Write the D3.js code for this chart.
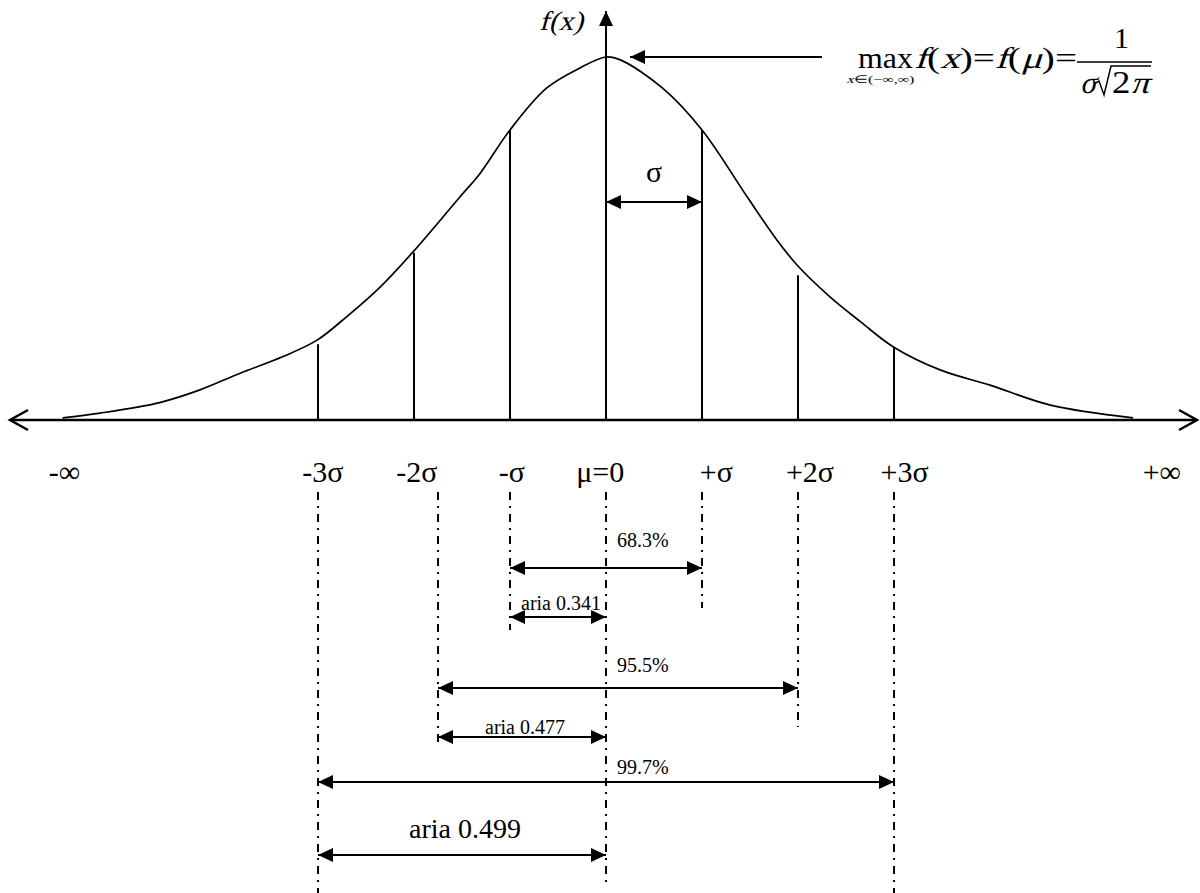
<!DOCTYPE html>
<html><head><meta charset="utf-8">
<script src="https://cdn.jsdelivr.net/npm/d3@7"></script>
<style>
html,body{margin:0;padding:0;background:#fff;}
svg{display:block;}
</style></head>
<body><svg id="c" width="1200" height="893" font-family="'Liberation Serif', 'Times New Roman', Times, serif"></svg>
<script>
// ---- data (x in units of sigma, y = relative density, peak = 1) ----
const curveS = [-5.66,-5.27,-4.65,-4.23,-3.81,-3.37,-3.01,-2.70,-2.35,-2.01,-1.52,-1.31,-1.0,-0.62,-0.27,0,0.15,0.59,1.0,1.47,1.78,1.99,2.33,2.65,2.99,3.48,4.0,4.63,5.49];
const curveV = [0.006,0.019,0.048,0.083,0.129,0.174,0.220,0.285,0.367,0.463,0.615,0.680,0.799,0.914,0.970,1.0,0.992,0.914,0.799,0.615,0.496,0.427,0.340,0.271,0.202,0.138,0.096,0.041,0.006];
const sigmaMarks = [-3,-2,-1,1,2,3];
const sigmaMarkTops = [0.209,0.461,0.799,0.799,0.399,0.201];
const axisLabels = ["-\u221E","-3\u03C3","-2\u03C3","-\u03C3","\u03BC=0","+\u03C3","+2\u03C3","+3\u03C3","+\u221E"];
const axisLabelPos = [-5.64,-2.95,-1.97,-0.98,-0.06,1.15,2.125,3.11,5.79];
const guideS = [-3,-1.75,-1,0,1,2,3];
const intervalLabels = ["68.3%","aria 0.341","95.5%","aria 0.477","99.7%","aria 0.499"];
const intervalFrom = [-1,-1,-1.75,-1.75,-3,-3];
const intervalTo = [1,0,2,0,3,0];

// ---- layout ----
const FONT = "'Liberation Serif', 'Times New Roman', Times, serif";
const SKEW = -14;
const svg = d3.select("#c");
const x = d3.scaleLinear().domain([-3,3]).range([318,894]);
const y = d3.scaleLinear().domain([0,1]).range([420,57]);
const axisY = y(0);
const guideTop = 492;
const guideBottom = [893,745,630,885,608,727,893];
const rowY = [568,617,688,737,782,855];
const labelBase = [547,610,672,734,774,838];
const labelSize = [20,20,20,20,20,28];

const T = (sel)=>sel.attr("font-family",FONT).attr("fill","#000");

// row of text pieces (italic = synthetic slant of the serif face), fitted to a width
function textRow(parent, pieces, x0, y0, size, width){
  const g = parent.append("g");
  const inner = g.append("g");
  let cx = 0;
  pieces.forEach(([t,it])=>{
    const pg = inner.append("g").attr("transform",`translate(${cx},0)` + (it?` skewX(${SKEW})`:""));
    const el = T(pg.append("text")).attr("x",0).attr("y",0).attr("font-size",size).text(t);
    cx += el.node().getComputedTextLength();
  });
  const sx = width ? width/cx : 1;
  g.attr("transform",`translate(${x0},${y0}) scale(${sx},1)`);
  return g;
}

// arrowhead marker
const defs = svg.append("defs");
defs.append("marker").attr("id","head")
  .attr("viewBox","0 0 15 14").attr("refX",15).attr("refY",7)
  .attr("markerWidth",15).attr("markerHeight",14)
  .attr("markerUnits","userSpaceOnUse").attr("orient","auto-start-reverse")
  .append("path").attr("d","M0,0L15,7L0,14Z").attr("fill","#000");

// x axis line with open arrow heads
svg.append("line").attr("x1",10).attr("x2",1197).attr("y1",axisY).attr("y2",axisY)
  .attr("stroke","#000").attr("stroke-width",2.5);
svg.append("path").attr("d",`M28,${axisY-10}L10,${axisY}L28,${axisY+10}`)
  .attr("fill","none").attr("stroke","#000").attr("stroke-width",2.5);
svg.append("path").attr("d",`M1179,${axisY-10}L1197,${axisY}L1179,${axisY+10}`)
  .attr("fill","none").attr("stroke","#000").attr("stroke-width",2.5);

// curve
const pts = curveS.map((s,i)=>[s,curveV[i]]);
svg.append("path").datum(pts)
  .attr("d",d3.line().x(d=>x(d[0])).y(d=>y(d[1])).curve(d3.curveCatmullRom.alpha(0.5)))
  .attr("fill","none").attr("stroke","#000").attr("stroke-width",1.7);

// vertical sigma lines
svg.selectAll("line.sig").data(sigmaMarks).join("line").attr("class","sig")
  .attr("x1",d=>x(d)).attr("x2",d=>x(d))
  .attr("y1",axisY).attr("y2",(d,i)=>y(sigmaMarkTops[i]))
  .attr("stroke","#000").attr("stroke-width",2);

// mu axis (vertical) with arrow
svg.append("line").attr("x1",x(0)).attr("x2",x(0)).attr("y1",axisY).attr("y2",11)
  .attr("stroke","#000").attr("stroke-width",2).attr("marker-end","url(#head)");
textRow(svg, [["f(x)",1]], 539, 30, 27, 44);

// sigma width arrow
svg.append("line").attr("x1",x(0)).attr("x2",x(1)).attr("y1",202).attr("y2",202)
  .attr("stroke","#000").attr("stroke-width",2)
  .attr("marker-start","url(#head)").attr("marker-end","url(#head)");
T(svg.append("text")).attr("x",(x(0)+x(1))/2).attr("y",182).attr("font-size",30)
  .attr("text-anchor","middle").text("\u03C3");

// pointer to maximum
svg.append("line").attr("x1",822).attr("x2",630).attr("y1",y(1)).attr("y2",y(1))
  .attr("stroke","#000").attr("stroke-width",2).attr("marker-end","url(#head)");

// formula
textRow(svg, [["max",0]], 858, 68, 30, 55);
textRow(svg, [["x",1],["\u2208(\u2212\u221E,\u221E)",0]], 846, 83, 11, 69);
textRow(svg, [["f",1],["(",0],["x",1],[")=",0],["f",1],["(",0],["\u03BC",1],[")=",0]], 914, 68, 30, 163);
T(svg.append("text")).attr("x",1114).attr("y",48).attr("font-size",30).text("1");
svg.append("line").attr("x1",1077).attr("x2",1152).attr("y1",62).attr("y2",62)
  .attr("stroke","#000").attr("stroke-width",1.5);
textRow(svg, [["\u03C3",1]], 1080, 93, 31, 16);
svg.append("path").attr("d","M1094,84L1099,81L1104,95L1111,66L1151,66")
  .attr("fill","none").attr("stroke","#000").attr("stroke-width",1.5);
textRow(svg, [["2",0],["\u03C0",1]], 1112, 93, 31, 37);

// axis labels
T(svg.selectAll("text.al").data(axisLabels).join("text").attr("class","al"))
  .attr("x",(d,i)=>x(axisLabelPos[i])).attr("y",482).attr("font-size",30)
  .attr("text-anchor","middle").text(d=>d);

// dash-dot guides
svg.selectAll("line.guide").data(guideS).join("line").attr("class","guide")
  .attr("x1",d=>x(d)).attr("x2",d=>x(d)).attr("y1",guideTop).attr("y2",(d,i)=>guideBottom[i])
  .attr("stroke","#000").attr("stroke-width",2).attr("stroke-dasharray","8,6,2,6");

// interval arrows
svg.selectAll("line.iv").data(intervalLabels).join("line").attr("class","iv")
  .attr("x1",(d,i)=>x(intervalFrom[i])).attr("x2",(d,i)=>x(intervalTo[i]))
  .attr("y1",(d,i)=>rowY[i]).attr("y2",(d,i)=>rowY[i])
  .attr("stroke","#000").attr("stroke-width",2)
  .attr("marker-start","url(#head)").attr("marker-end","url(#head)");
T(svg.selectAll("text.iv").data(intervalLabels).join("text").attr("class","iv"))
  .attr("x",(d,i)=> d.startsWith("aria") ? (x(intervalFrom[i])+x(intervalTo[i]))/2 + 3 : x(0)+11)
  .attr("text-anchor",d=>d.startsWith("aria")?"middle":"start")
  .attr("y",(d,i)=>labelBase[i]).attr("font-size",(d,i)=>labelSize[i]).text(d=>d);
</script></body></html>
